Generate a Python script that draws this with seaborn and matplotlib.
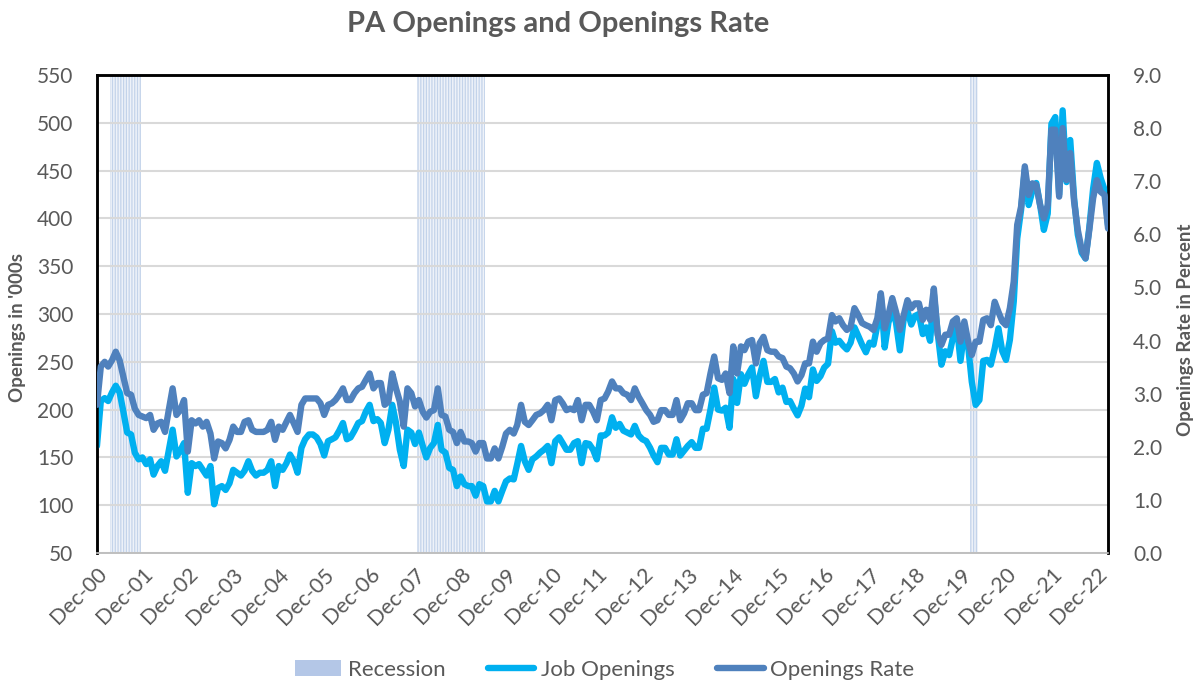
import matplotlib
matplotlib.use("Agg")
import matplotlib.pyplot as plt
import matplotlib.dates as mdates
from matplotlib.patches import Patch
from matplotlib.lines import Line2D
import pandas as pd
import seaborn as sns

sns.set_style("white")
plt.rcParams["font.family"] = ["Lato", "DejaVu Sans"]
plt.rcParams["hatch.linewidth"] = 0.9

# monthly data, Dec-00 .. Mar-23
months = pd.date_range("2000-12-01", "2023-03-01", freq="MS")

job_openings = [
    162, 209, 212, 209, 218, 225, 218, 198, 176, 174, 155, 148,
    150, 143, 148, 132, 141, 146, 136, 157, 179, 151, 157, 165,
    113, 144, 141, 143, 137, 131, 141, 101, 118, 120, 116, 123,
    137, 134, 131, 136, 146, 136, 131, 134, 134, 137, 146, 120,
    141, 137, 144, 153, 146, 134, 160, 169, 174, 174, 171, 164,
    152, 167, 169, 171, 178, 186, 169, 171, 178, 186, 188, 198,
    205, 188, 190, 186, 165, 179, 205, 186, 158, 141, 179, 176,
    164, 176, 162, 150, 160, 165, 184, 158, 155, 139, 137, 120,
    130, 122, 120, 120, 110, 122, 120, 104, 104, 115, 104, 115,
    125, 128, 127, 143, 162, 146, 137, 148, 151, 155, 158, 162,
    144, 167, 171, 165, 158, 158, 165, 167, 144, 165, 164, 158,
    148, 173, 173, 176, 192, 181, 185, 178, 176, 174, 183, 173,
    169, 167, 160, 152, 145, 160, 160, 153, 153, 169, 152, 157,
    162, 166, 160, 160, 180, 180, 200, 223, 200, 199, 202, 181,
    232, 207, 237, 227, 237, 244, 214, 235, 251, 229, 229, 232,
    218, 223, 208, 209, 201, 194, 204, 222, 213, 242, 230, 235,
    244, 248, 282, 270, 272, 267, 263, 270, 286, 277, 268, 260,
    270, 268, 288, 319, 265, 291, 305, 291, 262, 295, 303, 289,
    298, 300, 279, 286, 272, 321, 280, 247, 261, 257, 275, 289,
    251, 282, 266, 229, 205, 210, 251, 252, 247, 264, 285, 261,
    252, 273, 313, 379, 409, 451, 414, 429, 437, 414, 388, 405,
    499, 506, 425, 513, 438, 482, 421, 383, 364, 358, 390, 431,
    458, 442, 430, 393,
]

openings_rate = [
    2.79, 3.51, 3.60, 3.51, 3.63, 3.79, 3.63, 3.32, 3.01, 2.98, 2.72, 2.60,
    2.57, 2.54, 2.60, 2.32, 2.44, 2.47, 2.28, 2.69, 3.10, 2.60, 2.69, 2.88,
    1.91, 2.50, 2.44, 2.50, 2.38, 2.47, 2.25, 1.78, 2.10, 2.07, 1.97, 2.13,
    2.38, 2.28, 2.28, 2.47, 2.50, 2.32, 2.28, 2.28, 2.28, 2.32, 2.47, 2.13,
    2.38, 2.32, 2.47, 2.60, 2.44, 2.28, 2.79, 2.91, 2.91, 2.91, 2.91, 2.82,
    2.60, 2.79, 2.82, 2.88, 2.98, 3.10, 2.88, 2.88, 3.01, 3.10, 3.13, 3.26,
    3.38, 3.10, 3.20, 3.20, 2.79, 2.85, 3.38, 3.10, 2.85, 2.38, 3.10, 3.01,
    2.76, 2.88, 2.66, 2.55, 2.66, 2.69, 3.10, 2.60, 2.57, 2.32, 2.28, 2.07,
    2.28, 2.10, 2.10, 2.07, 1.91, 2.07, 2.07, 1.78, 1.78, 1.97, 1.78, 2.00,
    2.25, 2.32, 2.25, 2.41, 2.79, 2.47, 2.41, 2.50, 2.60, 2.63, 2.69, 2.79,
    2.50, 2.88, 2.91, 2.82, 2.69, 2.72, 2.69, 2.88, 2.50, 2.79, 2.79, 2.66,
    2.50, 2.88, 2.91, 3.04, 3.23, 3.10, 3.10, 3.01, 2.98, 2.88, 3.10, 2.94,
    2.82, 2.69, 2.60, 2.47, 2.50, 2.69, 2.69, 2.60, 2.60, 2.88, 2.50, 2.63,
    2.82, 2.82, 2.69, 2.69, 2.98, 3.01, 3.38, 3.70, 3.29, 3.26, 3.38, 3.01,
    3.89, 3.38, 3.89, 3.82, 3.98, 4.01, 3.57, 3.95, 4.07, 3.82, 3.79, 3.79,
    3.70, 3.67, 3.51, 3.48, 3.38, 3.23, 3.35, 3.57, 3.57, 3.98, 3.79, 3.95,
    4.01, 4.04, 4.48, 4.36, 4.42, 4.29, 4.20, 4.26, 4.61, 4.48, 4.33, 4.29,
    4.26, 4.20, 4.42, 4.89, 4.23, 4.48, 4.80, 4.54, 4.20, 4.48, 4.76, 4.61,
    4.70, 4.70, 4.39, 4.58, 4.39, 4.98, 4.11, 3.92, 4.11, 4.11, 4.36, 4.42,
    3.98, 4.36, 3.98, 3.73, 3.98, 3.98, 4.39, 4.42, 4.29, 4.73, 4.54, 4.36,
    4.29, 4.61, 5.11, 6.18, 6.52, 7.28, 6.74, 6.96, 6.93, 6.55, 6.30, 6.55,
    7.97, 7.97, 6.71, 8.00, 7.02, 7.53, 6.62, 6.08, 5.71, 5.55, 6.08, 6.68,
    7.02, 6.80, 6.74, 6.11,
]

recession_periods = [("2001-04-01", "2001-11-01"),
                     ("2008-01-01", "2009-06-01"),
                     ("2020-03-01", "2020-04-01")]

rec_dates = []
for start, end in recession_periods:
    rec_dates += list(pd.date_range(start, end, freq="MS"))

GRAY = "#595959"
C_OPEN = "#00B0F0"
C_RATE = "#4F81BD"

fig = plt.figure(figsize=(11.97, 6.83), dpi=100)
ax = fig.add_axes([0.081, 0.1903, 0.8447, 0.6999])
ax2 = ax.twinx()

# recession shading as columns
ax.bar(rec_dates, [500] * len(rec_dates), bottom=50, width=31, align="center",
       facecolor="#eef2f9", edgecolor="#c3d3ea", hatch="||||||", linewidth=0,
       zorder=0.3)

sns.lineplot(x=months, y=job_openings, ax=ax, color=C_OPEN, linewidth=4.6,
             solid_joinstyle="round", zorder=3)
sns.lineplot(x=months, y=openings_rate, ax=ax2, color=C_RATE, linewidth=4.6,
             solid_joinstyle="round", zorder=3)

ax.set_ylim(50, 550)
ax.set_yticks(range(50, 551, 50))
ax2.set_ylim(0, 9)
ax2.set_yticks([i for i in range(0, 10)])
ax2.set_yticklabels([f"{i:.1f}" for i in range(0, 10)])

ax.set_xlim(months[0], months[-1])
ax.xaxis.set_major_locator(mdates.MonthLocator(bymonth=12))
ax.xaxis.set_major_formatter(mdates.DateFormatter("%b-%y"))

ax.set_axisbelow(True)
ax.yaxis.grid(True, color="#d9d9d9", linewidth=1.5)
ax.xaxis.grid(False)
ax.set_xlabel("")
ax.set_ylabel("")
ax2.set_ylabel("")

for a in (ax, ax2):
    for s in ("left", "right", "top"):
        a.spines[s].set_color("black")
        a.spines[s].set_linewidth(1.8)
    a.spines["bottom"].set_color("#bfbfbf")
    a.spines["bottom"].set_linewidth(1.2)

ax.tick_params(axis="y", length=0, labelsize=15, labelcolor=GRAY, pad=17)
ax2.tick_params(axis="y", length=0, labelsize=15, labelcolor=GRAY, pad=18)
ax.tick_params(axis="x", length=6, color="#bfbfbf", width=1.2,
               labelsize=15.5, labelcolor=GRAY, pad=2)
for lbl in ax.get_xticklabels():
    lbl.set_rotation(45)
    lbl.set_ha("right")
    lbl.set_rotation_mode("anchor")

fig.text(0.466, 1 - 24 / 683, "PA Openings and Openings Rate", ha="center",
         va="center", fontsize=21, fontweight="bold", color=GRAY)
fig.text(18 / 1197, 0.52, "Openings in '000s", rotation=90, ha="center",
         va="center", fontsize=13.5, fontweight="bold", color=GRAY)
fig.text(1185 / 1197, 0.517, "Openings Rate in Percent", rotation=90,
         ha="center", va="center", fontsize=13.5, fontweight="bold", color=GRAY)

handles = [Patch(facecolor="#b4c7e7", edgecolor="none"),
           Line2D([], [], color=C_OPEN, linewidth=4.6, solid_capstyle="round"),
           Line2D([], [], color=C_RATE, linewidth=4.6, solid_capstyle="round")]
fig.legend(handles, ["Recession", "Job Openings", "Openings Rate"],
           loc="center", bbox_to_anchor=(0.505, 1 - 670 / 683), ncol=3,
           frameon=False, fontsize=16, labelcolor=GRAY, handlelength=2.1,
           handletextpad=0.3, columnspacing=1.9)

fig.savefig("out.png", dpi=100)
